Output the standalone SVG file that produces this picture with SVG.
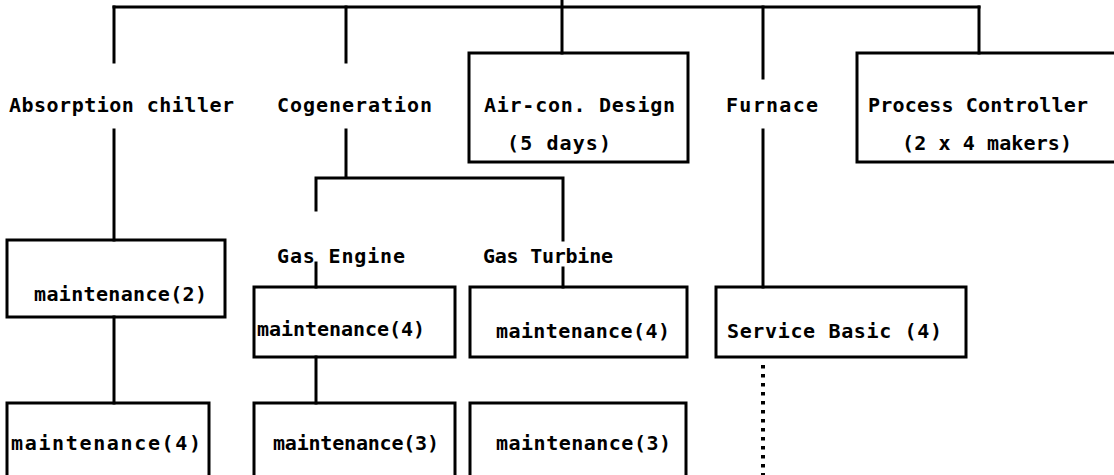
<svg xmlns="http://www.w3.org/2000/svg" width="1114" height="475" viewBox="0 0 1114 475">
<style>
.ln{stroke:#000;stroke-width:3;fill:none;stroke-linecap:square}
.bx{stroke:#000;stroke-width:3;fill:none}
.dt{stroke:#000;stroke-width:4;fill:none;stroke-dasharray:3.5 5.5}
.t{font-family:"DejaVu Sans Mono","Liberation Mono",monospace;font-weight:bold;font-size:20px;fill:#000}
</style>
<rect width="1114" height="475" fill="#fff"/>
<g id="connectors">
<path class="ln" d="M114 7 H979"/>
<path class="ln" d="M562 0 V53"/>
<path class="ln" d="M114 7 V62"/>
<path class="ln" d="M346 7 V62"/>
<path class="ln" d="M763 7 V78"/>
<path class="ln" d="M979 7 V53"/>
<path class="ln" d="M114 130 V240"/>
<path class="ln" d="M346 130 V178 M316 178 H563 M316 178 V210 M563 178 V240"/>
<path class="ln" d="M316 263 V287"/>
<path class="ln" d="M563 268 V287"/>
<path class="ln" d="M763 130 V287"/>
<path class="ln" d="M114 317 V403"/>
<path class="ln" d="M316 357 V403"/>
<path class="dt" d="M763 365 V475"/>
</g>
<g id="absorption-chiller"><text class="t" x="9" y="112" textLength="225" lengthAdjust="spacing">Absorption chiller</text></g>
<g id="cogeneration"><text class="t" x="277" y="112" textLength="155" lengthAdjust="spacing">Cogeneration</text></g>
<g id="aircon-design"><rect class="bx" x="469" y="53" width="219" height="109"/><text class="t" x="484" y="112" textLength="191" lengthAdjust="spacing">Air-con. Design</text><text class="t" x="507" y="150" textLength="104" lengthAdjust="spacing">(5 days)</text></g>
<g id="furnace"><text class="t" x="726" y="112" textLength="92" lengthAdjust="spacing">Furnace</text></g>
<g id="process-controller"><rect class="bx" x="857" y="53" width="280" height="109"/><text class="t" x="868" y="112" textLength="220" lengthAdjust="spacing">Process Controller</text><text class="t" x="902" y="150" textLength="170" lengthAdjust="spacing">(2 x 4 makers)</text></g>
<g id="ac-maint2"><rect class="bx" x="7" y="240" width="218" height="77"/><text class="t" x="34" y="301" textLength="173" lengthAdjust="spacing">maintenance(2)</text></g>
<g id="ac-maint4"><rect class="bx" x="7" y="403" width="202" height="80"/><text class="t" x="11" y="450" textLength="190" lengthAdjust="spacing">maintenance(4)</text></g>
<g id="gas-engine"><text class="t" x="277" y="263" textLength="128" lengthAdjust="spacing">Gas Engine</text></g>
<g id="gas-turbine"><text class="t" x="483" y="263" textLength="130" lengthAdjust="spacing">Gas Turbine</text></g>
<g id="ge-maint4"><rect class="bx" x="254" y="287" width="201" height="70"/><text class="t" x="257" y="336" textLength="168" lengthAdjust="spacing">maintenance(4)</text></g>
<g id="ge-maint3"><rect class="bx" x="254" y="403" width="201" height="80"/><text class="t" x="273" y="450" textLength="166" lengthAdjust="spacing">maintenance(3)</text></g>
<g id="gt-maint4"><rect class="bx" x="470" y="287" width="217" height="70"/><text class="t" x="496" y="338" textLength="174" lengthAdjust="spacing">maintenance(4)</text></g>
<g id="gt-maint3"><rect class="bx" x="470" y="403" width="216" height="80"/><text class="t" x="496" y="450" textLength="175" lengthAdjust="spacing">maintenance(3)</text></g>
<g id="service-basic"><rect class="bx" x="716" y="287" width="250" height="70"/><text class="t" x="727" y="338" textLength="215" lengthAdjust="spacing">Service Basic (4)</text></g>
</svg>
